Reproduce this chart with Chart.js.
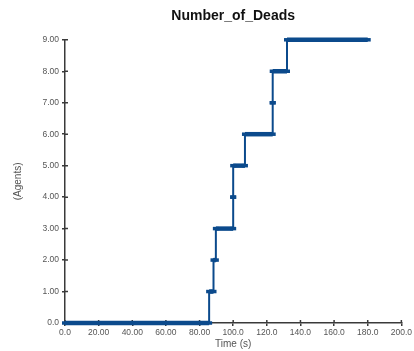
<!DOCTYPE html>
<html>
<head>
<meta charset="utf-8">
<script src="https://cdn.jsdelivr.net/npm/chart.js@4/dist/chart.umd.min.js"></script>
<style>
  html, body { margin: 0; padding: 0; background: #fff; }
  #wrap { width: 414px; height: 351px; }
</style>
</head>
<body>
<div id="wrap"><canvas id="deadsChart" width="414" height="351"></canvas></div>
<script>
// time (s) at which each death count starts
var stepTimes = [0, 85.7, 88.3, 89.7, 100, 100, 107, 123.5, 123.5, 132];
var deadCounts = [0, 1, 2, 3, 4, 5, 6, 7, 8, 9];
var endTime = 180;

var xTickLabels = ['0.0', '20.00', '40.00', '60.00', '80.00', '100.0', '120.0', '140.0', '160.0', '180.0', '200.0'];
var yTickLabels = ['0.0', '1.00', '2.00', '3.00', '4.00', '5.00', '6.00', '7.00', '8.00', '9.00'];

var lineColor = '#0b4a8c';
var axisColor = '#3a3a3a';
var labelColor = '#555';
var fontFamily = "'Liberation Sans', Arial, sans-serif";

// each count level is a flat run from its start time to the next start time
var points = [];
for (var i = 0; i < deadCounts.length; i++) {
    var next = i < stepTimes.length - 1 ? stepTimes[i + 1] : endTime;
    points.push({ x: stepTimes[i], y: deadCounts[i] });
    points.push({ x: next, y: deadCounts[i] });
}

// short tick marks on the inside of both axes
var innerTicks = {
    id: 'innerTicks',
    beforeDatasetsDraw: function (chart) {
        var ctx = chart.ctx;
        var x = chart.scales.x;
        var y = chart.scales.y;
        ctx.save();
        ctx.strokeStyle = axisColor;
        ctx.lineWidth = 1.5;
        ctx.beginPath();
        x.ticks.forEach(function (t) {
            var px = x.getPixelForValue(t.value);
            ctx.moveTo(px, x.top);
            ctx.lineTo(px, x.top - 3);
        });
        y.ticks.forEach(function (t) {
            var py = y.getPixelForValue(t.value);
            ctx.moveTo(y.right, py);
            ctx.lineTo(y.right + 3, py);
        });
        ctx.stroke();
        ctx.restore();
    }
};

var ctx = document.getElementById('deadsChart').getContext('2d');
var deadsChart = new Chart(ctx, {
    type: 'line',
    data: {
        datasets: [{
            label: 'Number_of_Deads',
            data: points,
            borderColor: lineColor,
            backgroundColor: lineColor,
            borderWidth: 4.5,
            pointStyle: 'line',   // markers are short horizontal dashes
            pointRadius: 3,
            pointBorderWidth: 3.5,
            pointBorderColor: lineColor,
            pointBackgroundColor: lineColor,
            fill: false,
            tension: 0,
            clip: false, // the 0 and 9 runs sit right on the chart edges
            segment: {
                // flat runs are drawn heavy, the jumps between counts thin
                borderWidth: function (c) {
                    return c.p0.parsed.y === c.p1.parsed.y ? 4.5 : 2;
                }
            }
        }]
    },
    plugins: [innerTicks],
    options: {
        responsive: false,
        animation: false,
        layout: { padding: { left: 0, right: 11, top: 0, bottom: 0 } },
        plugins: {
            legend: { display: false },
            tooltip: { enabled: false },
            title: {
                display: true,
                text: 'Number_of_Deads',
                fullSize: false,
                color: '#111',
                font: { family: fontFamily, size: 14, weight: 'bold' },
                padding: { top: 8, bottom: 15 }
            }
        },
        scales: {
            x: {
                type: 'linear',
                min: 0,
                max: 200,
                ticks: {
                    stepSize: 20,
                    color: labelColor,
                    font: { family: fontFamily, size: 8.5 },
                    padding: 2,
                    maxRotation: 0,
                    autoSkip: false,
                    callback: function (value, index) { return xTickLabels[index]; }
                },
                grid: { drawOnChartArea: false, tickLength: 3, color: axisColor, lineWidth: 1.5 },
                border: { color: axisColor, width: 1.5 },
                title: {
                    display: true,
                    text: 'Time (s)',
                    color: labelColor,
                    font: { family: fontFamily, size: 10 },
                    padding: { top: 0, bottom: 1 }
                },
                afterFit: function (scale) { scale.height = 28; }
            },
            y: {
                type: 'linear',
                min: 0,
                max: 9,
                ticks: {
                    stepSize: 1,
                    color: labelColor,
                    font: { family: fontFamily, size: 8.5 },
                    padding: 3,
                    callback: function (value, index) { return yTickLabels[index]; }
                },
                grid: { drawOnChartArea: false, tickLength: 3, color: axisColor, lineWidth: 1.5 },
                border: { color: axisColor, width: 1.5 },
                title: {
                    display: true,
                    text: '(Agents)',
                    color: labelColor,
                    font: { family: fontFamily, size: 10 },
                    padding: { top: 12, bottom: 0 }
                },
                afterFit: function (scale) { scale.width = 65; }
            }
        }
    }
});
</script>
</body>
</html>
